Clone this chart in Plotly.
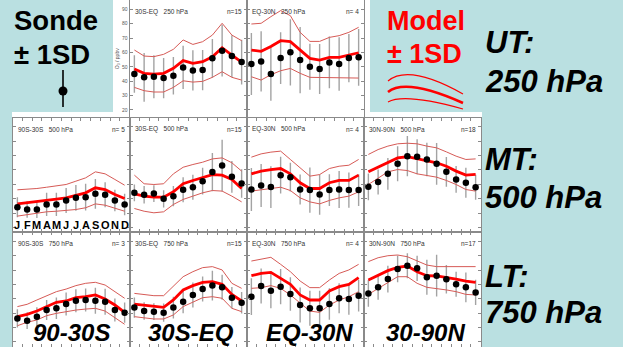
import plotly.graph_objects as go

W, H = 623, 347
BG = "#bae0e1"
FONT = "Liberation Sans, Arial, sans-serif"

months = list(range(1, 13))
month_letters = ["J", "F", "M", "A", "M", "J", "J", "A", "S", "O", "N", "D"]
y_ticks = [20, 30, 40, 50, 60, 70, 80, 90]
x_ticks = [m + 0.5 for m in range(0, 13)]

# ---------------- UT 250 hPa ----------------
sonde_250_30S_EQ = [45.0, 42.7, 43.1, 42.2, 43.8, 49.6, 47.5, 47.8, 55.9, 61.2, 57.5, 53.3]
sd_250_30S_EQ = [13, 17, 15, 14, 13, 15, 14, 14, 13.5, 18, 14.5, 15.5]
model_250_30S_EQ = [48.5, 45.5, 45.0, 45.5, 49.0, 54.3, 52.4, 53.6, 57.0, 63.3, 58.2, 53.3]
model_hi_250_30S_EQ = [61.7, 57.5, 57.1, 58.7, 62.2, 68.7, 65.6, 67.5, 72.1, 80.3, 72.1, 68.2]
model_lo_250_30S_EQ = [35.7, 33.4, 32.5, 32.5, 35.7, 40.3, 39.4, 39.9, 42.7, 46.6, 42.7, 40.8]

sonde_250_EQ_30N = [52.0, 53.8, 45.0, 56.1, 60.1, 54.7, 50.1, 48.5, 53.1, 52.0, 56.1, 56.6]
sd_250_EQ_30N = [21.5, 21, 18.5, 18, 23, 23, 16, 17.4, 18, 18.6, 16.8, 19.7]
model_250_EQ_30N = [61.7, 60.8, 64.2, 68.2, 67.5, 61.7, 55.9, 54.7, 56.6, 56.6, 58.2, 59.8]
model_hi_250_EQ_30N = [79.8, 80.3, 84.9, 89.1, 85.6, 74.0, 67.7, 67.7, 70.5, 71.7, 74.0, 77.5]
model_lo_250_EQ_30N = [43.1, 40.8, 44.5, 47.3, 48.9, 45.5, 42.7, 42.7, 42.2, 42.7, 42.7, 42.2]

# ---------------- MT 500 hPa ----------------
sonde_500_90S_30S = [34.1, 32.5, 32.5, 36.0, 36.0, 38.8, 40.6, 41.1, 43.4, 42.7, 38.8, 36.0]
sd_500_90S_30S = [7, 5.8, 6, 8.1, 8.1, 8.7, 9.0, 9.3, 10.4, 8.7, 7.5, 7.5]
model_500_90S_30S = [36.4, 37.1, 37.8, 38.8, 39.7, 40.6, 42.2, 44.1, 47.6, 46.4, 42.9, 40.2]
model_hi_500_90S_30S = [46.2, 46.4, 47.1, 48.0, 49.0, 49.9, 52.2, 54.5, 58.7, 57.3, 53.4, 49.4]
model_lo_500_90S_30S = [27.9, 29.0, 29.7, 30.9, 31.3, 31.8, 32.5, 33.7, 36.4, 35.5, 33.2, 31.3]

sonde_500_30S_EQ = [44.1, 42.7, 43.6, 39.9, 41.8, 46.2, 48.0, 52.2, 58.5, 63.1, 55.2, 50.6]
sd_500_30S_EQ = [5.8, 6.1, 5.8, 6, 7, 8.7, 8.7, 9.3, 13.3, 18, 11, 9.9]
model_500_30S_EQ = [43.4, 41.8, 41.1, 41.1, 44.8, 50.4, 52.7, 55.0, 56.8, 56.4, 53.4, 47.1]
model_hi_500_30S_EQ = [56.4, 50.4, 49.9, 50.4, 57.3, 61.9, 63.8, 65.4, 67.7, 68.4, 65.0, 59.2]
model_lo_500_30S_EQ = [33.2, 31.3, 30.2, 30.9, 36.0, 39.5, 41.8, 44.1, 45.7, 45.3, 41.8, 37.8]

sonde_500_EQ_30N = [46.4, 49.2, 48.1, 56.4, 55.0, 46.4, 46.0, 42.9, 46.0, 46.4, 46.0, 46.0]
sd_500_EQ_30N = [15, 15, 14.5, 12.8, 10, 10.4, 15.7, 14, 11, 12.8, 12.2, 11]
model_500_EQ_30N = [57.3, 59.2, 60.3, 61.0, 57.3, 51.1, 47.1, 47.1, 51.1, 52.7, 52.7, 56.4]
model_hi_500_EQ_30N = [68.9, 71.2, 72.4, 73.1, 67.3, 61.5, 55.7, 56.8, 61.0, 62.6, 63.3, 67.3]
model_lo_500_EQ_30N = [45.3, 46.0, 47.1, 48.0, 45.7, 40.6, 37.8, 36.4, 38.8, 40.6, 41.8, 44.8]

sonde_500_30N_90N = [48.3, 51.7, 57.3, 64.3, 69.6, 69.2, 67.3, 64.3, 58.7, 53.4, 51.1, 48.0]
sd_500_30N_90N = [9.3, 8.7, 11, 12.2, 14, 12.2, 11.6, 14.5, 10.4, 9.3, 10.4, 8.7]
model_500_30N_90N = [58.7, 61.9, 65.4, 68.4, 69.2, 67.7, 66.6, 65.0, 62.6, 59.2, 56.4, 56.9]
model_hi_500_30N_90N = [70.8, 74.2, 76.6, 78.2, 78.6, 78.2, 76.6, 75.4, 72.6, 69.6, 67.3, 67.7]
model_lo_500_30N_90N = [49.9, 54.5, 58.7, 60.3, 59.6, 57.3, 56.4, 55.0, 52.7, 49.9, 46.4, 45.3]

# ---------------- LT 750 hPa ----------------
sonde_750_90S_30S = [36.4, 34.8, 37.6, 42.2, 43.4, 46.4, 48.7, 49.2, 48.7, 48.0, 42.2, 40.4]
sd_750_90S_30S = [6.4, 5.8, 6.5, 7, 7.5, 8, 8, 8, 9, 9, 8, 7]
model_750_90S_30S = [37.6, 39.2, 41.5, 44.6, 47.6, 48.5, 50.8, 51.5, 52.7, 49.9, 45.7, 40.6]
model_hi_750_90S_30S = [44.6, 46.2, 49.2, 52.2, 55.0, 56.8, 59.2, 60.8, 61.5, 59.6, 55.0, 50.4]
model_lo_750_90S_30S = [31.3, 33.7, 35.3, 38.3, 39.9, 41.1, 42.2, 42.9, 43.4, 41.5, 36.9, 32.3]

sonde_750_30S_EQ = [43.9, 41.5, 41.1, 40.4, 43.9, 48.0, 52.7, 56.8, 59.2, 58.0, 50.8, 47.3]
sd_750_30S_EQ = [7, 6.1, 5.8, 6.4, 7.5, 8.1, 8.7, 8.7, 10.4, 8.7, 7.5, 7.5]
model_750_30S_EQ = [46.4, 45.7, 44.6, 44.1, 49.2, 56.2, 59.2, 61.5, 62.0, 60.1, 53.1, 48.5]
model_hi_750_30S_EQ = [53.8, 53.1, 52.2, 52.2, 58.5, 65.4, 68.9, 71.7, 72.4, 70.1, 60.8, 57.3]
model_lo_750_30S_EQ = [37.6, 36.9, 36.0, 36.0, 38.8, 44.6, 47.6, 50.8, 51.5, 50.4, 43.4, 41.1]

sonde_750_EQ_30N = [51.5, 58.9, 55.7, 58.5, 53.4, 45.7, 43.4, 43.4, 46.4, 50.4, 49.9, 52.2]
sd_750_EQ_30N = [12.8, 12.2, 12.2, 12.2, 11.6, 12.2, 12.2, 12.2, 11, 10.4, 11, 11]
model_750_EQ_30N = [66.1, 67.7, 68.4, 64.3, 60.1, 52.7, 49.2, 49.2, 55.5, 58.5, 60.1, 64.7]
model_hi_750_EQ_30N = [76.3, 77.7, 78.9, 74.0, 68.9, 62.4, 57.8, 57.8, 63.1, 67.7, 70.1, 74.0]
model_lo_750_EQ_30N = [57.3, 57.8, 59.2, 57.3, 52.7, 46.9, 41.5, 40.6, 45.7, 49.2, 51.5, 55.0]

sonde_750_30N_90N = [53.8, 58.0, 63.8, 70.8, 73.1, 71.2, 65.0, 66.1, 63.6, 60.1, 58.0, 54.5]
sd_750_30N_90N = [9.3, 8.7, 9.3, 9.3, 8.7, 8.7, 12.2, 14.5, 9.9, 8.7, 10.4, 8.7]
model_750_30N_90N = [63.1, 66.6, 69.6, 71.9, 72.8, 68.9, 66.1, 65.9, 65.0, 63.8, 62.4, 61.5]
model_hi_750_30N_90N = [75.9, 78.6, 80.0, 80.5, 79.3, 76.3, 73.5, 72.4, 72.4, 71.9, 71.9, 72.4]
model_lo_750_30N_90N = [53.1, 57.3, 61.5, 65.4, 65.4, 60.8, 58.0, 57.3, 56.2, 55.0, 53.1, 52.7]

# panel layout (row index, column index) and labels
panels = [
    (0, 1, "30S-EQ", "250 hPa", "n=15", sonde_250_30S_EQ, sd_250_30S_EQ, model_250_30S_EQ, model_hi_250_30S_EQ, model_lo_250_30S_EQ),
    (0, 2, "EQ-30N", "250 hPa", "n= 4", sonde_250_EQ_30N, sd_250_EQ_30N, model_250_EQ_30N, model_hi_250_EQ_30N, model_lo_250_EQ_30N),
    (1, 0, "90S-30S", "500 hPa", "n= 5", sonde_500_90S_30S, sd_500_90S_30S, model_500_90S_30S, model_hi_500_90S_30S, model_lo_500_90S_30S),
    (1, 1, "30S-EQ", "500 hPa", "n=15", sonde_500_30S_EQ, sd_500_30S_EQ, model_500_30S_EQ, model_hi_500_30S_EQ, model_lo_500_30S_EQ),
    (1, 2, "EQ-30N", "500 hPa", "n= 4", sonde_500_EQ_30N, sd_500_EQ_30N, model_500_EQ_30N, model_hi_500_EQ_30N, model_lo_500_EQ_30N),
    (1, 3, "30N-90N", "500 hPa", "n=18", sonde_500_30N_90N, sd_500_30N_90N, model_500_30N_90N, model_hi_500_30N_90N, model_lo_500_30N_90N),
    (2, 0, "90S-30S", "750 hPa", "n= 3", sonde_750_90S_30S, sd_750_90S_30S, model_750_90S_30S, model_hi_750_90S_30S, model_lo_750_90S_30S),
    (2, 1, "30S-EQ", "750 hPa", "n=15", sonde_750_30S_EQ, sd_750_30S_EQ, model_750_30S_EQ, model_hi_750_30S_EQ, model_lo_750_30S_EQ),
    (2, 2, "EQ-30N", "750 hPa", "n= 4", sonde_750_EQ_30N, sd_750_EQ_30N, model_750_EQ_30N, model_hi_750_EQ_30N, model_lo_750_EQ_30N),
    (2, 3, "30N-90N", "750 hPa", "n=17", sonde_750_30N_90N, sd_750_30N_90N, model_750_30N_90N, model_hi_750_30N_90N, model_lo_750_30N_90N),
]

col_edges = [12.5, 129.5, 246.5, 363.5, 480.5]
row_edges = [(0.0, 117.5), (117.5, 232.0), (232.0, 347.0)]
PX_PER_UNIT = 1.4375
Y_TOP = 96.5

def px_x(p):
    return p / W

def px_y(p):
    return 1 - p / H

fig = go.Figure()
AX = "#8a8a8a"
annotations = []
layout_axes = {}

for i, (r, c, region, level, ntxt, sonde, sd, model, hi, lo) in enumerate(panels):
    k = "" if i == 0 else str(i + 1)
    xa, ya = "x" + k, "y" + k
    x0, x1 = col_edges[c], col_edges[c + 1]
    y0, y1 = row_edges[r]
    y_bottom = Y_TOP - (y1 - y0) / PX_PER_UNIT
    first = (i == 0)
    layout_axes["xaxis" + k] = dict(
        domain=[px_x(x0), px_x(x1)], range=[0.5, 12.5], anchor=ya,
        tickmode="array", tickvals=x_ticks, ticks="" if r == 0 else "inside",
        ticklen=3, tickcolor=AX, showticklabels=False,
        showline=(r != 0), linecolor=AX, linewidth=1, mirror="allticks" if r != 0 else False,
        showgrid=False, zeroline=False, fixedrange=True,
    )
    yax = dict(
        domain=[px_y(y1), px_y(y0)], range=[y_bottom, Y_TOP], anchor=xa,
        tickmode="array", tickvals=y_ticks, ticks="inside", ticklen=3, tickcolor=AX,
        showticklabels=first, tickfont=dict(size=5, color="#555", family=FONT),
        showline=True, linecolor=AX, linewidth=1, mirror="allticks",
        showgrid=False, zeroline=False, fixedrange=True,
    )
    if first:
        yax["title"] = dict(text="O<sub>3</sub> / ppbv", font=dict(size=5, color="#555", family=FONT), standoff=2)
    layout_axes["yaxis" + k] = yax
    # sonde error bars (beneath model lines)
    fig.add_trace(go.Scatter(
        x=months, y=sonde, xaxis=xa, yaxis=ya, mode="markers",
        marker=dict(size=1, color="rgba(0,0,0,0)"),
        error_y=dict(type="data", array=sd, visible=True, color="#a3a3a3", thickness=1.4, width=0),
        showlegend=False, hoverinfo="skip"))
    for line_vals, lw, col in ((hi, 1, "#d65a56"), (lo, 1, "#d65a56"), (model, 2.8, "#ff0000")):
        fig.add_trace(go.Scatter(
            x=months, y=line_vals, xaxis=xa, yaxis=ya, mode="lines",
            line=dict(color=col, width=lw), showlegend=False, hoverinfo="skip"))
    fig.add_trace(go.Scatter(
        x=months, y=sonde, xaxis=xa, yaxis=ya, mode="markers",
        marker=dict(size=6.5, color="black"), showlegend=False))
    annotations.append(dict(
        text=region + "\u00a0\u00a0\u00a0" + level, xref=xa + " domain", yref=ya + " domain",
        x=0.03, y=1 - 11.5 / (y1 - y0), xanchor="left", yanchor="middle", showarrow=False,
        font=dict(size=6.5, color="#333", family=FONT)))
    annotations.append(dict(
        text=ntxt, xref=xa + " domain", yref=ya + " domain",
        x=0.98, y=1 - 11.5 / (y1 - y0), xanchor="right", yanchor="middle", showarrow=False,
        font=dict(size=6.5, color="#333", family=FONT)))

# month initials inside the 90S-30S 500 hPa panel
for m, letter in zip(months, month_letters):
    annotations.append(dict(
        text="<b>" + letter + "</b>", xref="x3", yref="y3 domain", x=m, y=0.065,
        xanchor="center", yanchor="middle", showarrow=False,
        font=dict(size=11, color="black", family=FONT)))

def big(text, x, y, size, color="black", xanchor="left"):
    annotations.append(dict(
        text=text, xref="paper", yref="paper", x=px_x(x), y=px_y(y),
        xanchor=xanchor, yanchor="middle", showarrow=False,
        font=dict(size=size, color=color, family=FONT)))

big("<b>Sonde</b>", 12, 21, 27.5)
big("<b>± 1SD</b>", 12, 54, 27.5)
big("<b>Model</b>", 385, 21, 27, color="#ff0000")
big("<b>± 1SD</b>", 385, 54, 27, color="#ff0000")
big("<b><i>UT:</i></b>", 483, 42, 31)
big("<b><i>250 hPa</i></b>", 483, 81, 31)
big("<b><i>MT:</i></b>", 483, 159, 31)
big("<b><i>500 hPa</i></b>", 483, 197, 31)
big("<b><i>LT:</i></b>", 483, 276, 31)
big("<b><i>750 hPa</i></b>", 483, 312, 31)
for label, cx in (("90-30S", 71), ("30S-EQ", 191), ("EQ-30N", 309), ("30-90N", 425)):
    big("<b><i>" + label + "</i></b>", cx, 332.5, 24, xanchor="center")

def pth(points):
    (sx, sy), rest = points[0], points[1:]
    s = "M %f,%f C " % (px_x(sx), px_y(sy))
    s += " ".join("%f,%f" % (px_x(a), px_y(b)) for a, b in rest)
    return s

shapes = [
    dict(type="rect", xref="paper", yref="paper", x0=px_x(113), x1=px_x(370), y0=px_y(113), y1=px_y(0),
         fillcolor="white", line=dict(width=0), layer="below"),
    dict(type="rect", xref="paper", yref="paper", x0=px_x(12), x1=px_x(482), y0=px_y(347), y1=px_y(112),
         fillcolor="white", line=dict(width=0), layer="below"),
    # sonde legend glyph
    dict(type="line", xref="paper", yref="paper", x0=px_x(63), x1=px_x(63), y0=px_y(107), y1=px_y(70),
         line=dict(color="black", width=1.6)),
    dict(type="circle", xref="paper", yref="paper", x0=px_x(58.5), x1=px_x(67.5), y0=px_y(95.5), y1=px_y(86.5),
         fillcolor="black", line=dict(width=0)),
    # model legend glyph
    dict(type="path", xref="paper", yref="paper", path=pth([(388, 81), (400, 71), (422, 71), (463, 94)]),
         line=dict(color="#ff0000", width=1.2)),
    dict(type="path", xref="paper", yref="paper", path=pth([(388, 92), (398, 84), (418, 83), (463, 103)]),
         line=dict(color="#ff0000", width=2.6)),
    dict(type="path", xref="paper", yref="paper", path=pth([(388, 102), (397, 97), (416, 96), (463, 109)]),
         line=dict(color="#ff0000", width=1.2)),
]

fig.update_layout(
    width=W, height=H, autosize=False,
    margin=dict(l=0, r=0, t=0, b=0),
    paper_bgcolor=BG, plot_bgcolor="white",
    showlegend=False, annotations=annotations, shapes=shapes,
    font=dict(family=FONT),
    **layout_axes,
)

fig.write_html("out.html", config={"displayModeBar": False},
               post_script="document.body.style.margin='0';document.body.style.overflow='hidden';")
